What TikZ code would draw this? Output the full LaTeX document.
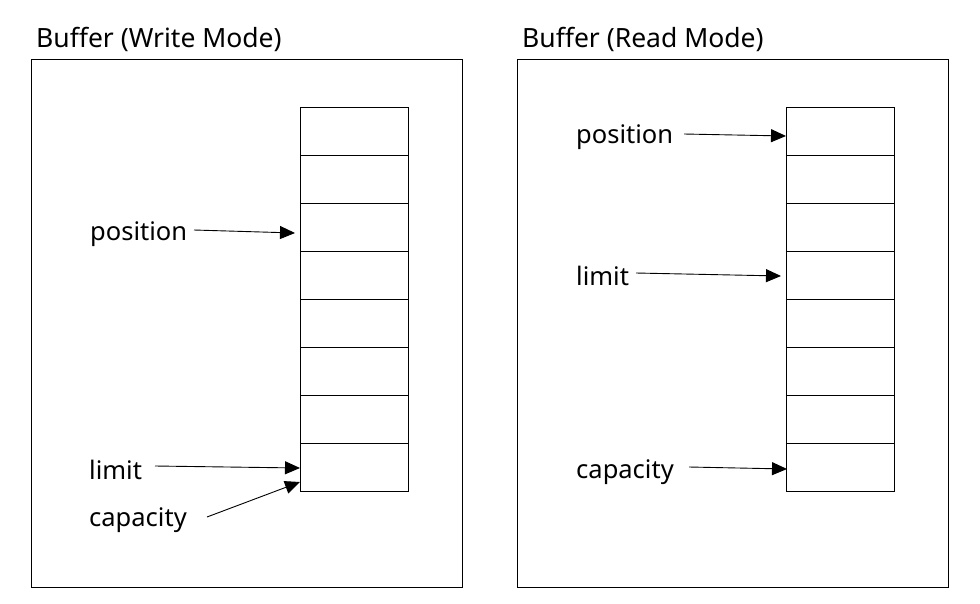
\documentclass[tikz,border=0pt]{standalone}
\usepackage{fontspec}
\setmainfont{Noto Sans}
\usetikzlibrary{arrows.meta}
\begin{document}
\begin{tikzpicture}[x=1pt,y=-1pt,
  frame/.style={draw=black,line width=1pt},
  cell/.style={draw=black,line width=1pt,minimum width=108pt,minimum height=48pt,inner sep=0pt,outer sep=0pt,anchor=north west},
  lbl/.style={anchor=base west,inner sep=0pt,font=\fontsize{25.5}{31}\selectfont},
  ttl/.style={anchor=base west,inner sep=0pt,font=\fontsize{26.5}{31}\selectfont},
  ptr/.style={line width=0.9pt,-{Triangle[length=15pt,width=13pt]}}]
\useasboundingbox (0,0) rectangle (980,603);
\fill[white] (0,0) rectangle (980,603);
% titles
\node[ttl] (t1) at (36,47) {Buffer (Write Mode)};
\node[ttl] (t2) at (522,47) {Buffer (Read Mode)};
% frames
\node[frame,inner sep=0pt,minimum width=431pt,minimum height=528pt,anchor=north west] (f1) at (31,59) {};
\node[frame,inner sep=0pt,minimum width=431pt,minimum height=528pt,anchor=north west] (f2) at (517,59) {};
% cells
\foreach \i in {0,...,7} {
  \node[cell] (a\i) at (300,107+48*\i) {};
  \node[cell] (b\i) at (786,107+48*\i) {};
}
% left labels
\node[lbl] (lp) at (90,240) {position};
\node[lbl] (ll) at (89,479) {limit};
\node[lbl] (lc) at (89,526) {capacity};
\coordinate (lps) at (194,230); \coordinate (lpe) at (295,233);
\coordinate (lls) at (155,466); \coordinate (lle) at (300,468);
\coordinate (lcs) at (207,517); \coordinate (lce) at (300,482);
\draw[ptr] (lps) -- (lpe);
\draw[ptr] (lls) -- (lle);
\draw[ptr] (lcs) -- (lce);
% right labels
\node[lbl] (rp) at (576,143) {position};
\node[lbl] (rl) at (576,285) {limit};
\node[lbl] (rc) at (576,478) {capacity};
\coordinate (rps) at (684,134); \coordinate (rpe) at (786,136);
\coordinate (rls) at (636,273); \coordinate (rle) at (781,276);
\coordinate (rcs) at (689,467); \coordinate (rce) at (787,469);
\draw[ptr] (rps) -- (rpe);
\draw[ptr] (rls) -- (rle);
\draw[ptr] (rcs) -- (rce);
\end{tikzpicture}
\end{document}
